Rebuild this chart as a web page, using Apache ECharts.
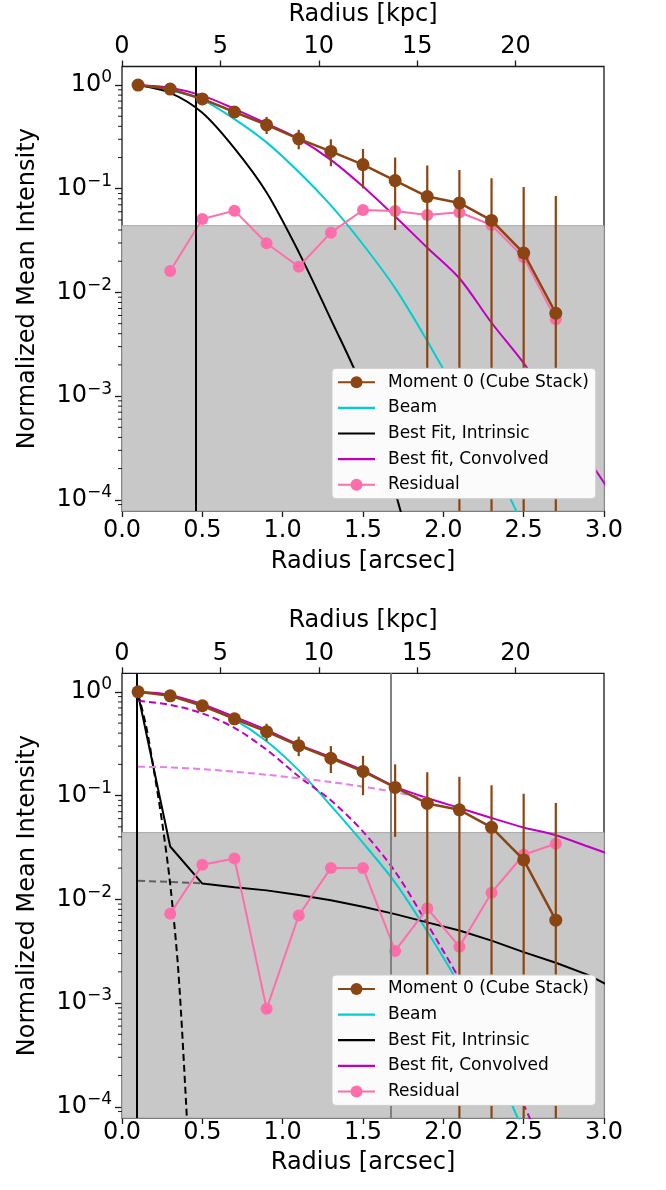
<!DOCTYPE html>
<html>
<head>
<meta charset="utf-8">
<script src="https://cdn.jsdelivr.net/npm/echarts@6/dist/echarts.min.js"></script>
<style>
html, body { margin: 0; padding: 0; background: #fff; }
#main { width: 666px; height: 1190px; }
</style>
</head>
<body>
<div id="main"></div>
<script>
// radial bins (arcsec) of the stacked moment 0 profile
var radius = [0.1, 0.3, 0.5, 0.7, 0.9, 1.1, 1.3, 1.5, 1.7, 1.9, 2.1, 2.3, 2.5, 2.7];
var moment0 = [1.0, 0.915, 0.735, 0.55, 0.413, 0.303, 0.229, 0.171, 0.12, 0.084, 0.073, 0.0495, 0.024, 0.0063];
var errUpper = [null, null, null, 0.60, 0.493, 0.37, 0.30, 0.242, 0.20, 0.168, 0.152, 0.126, 0.104, 0.085];
var errLower = [null, null, null, 0.50, 0.337, 0.24, 0.165, 0.101, 0.040, 3e-4, 1e-5, 1e-5, 1e-5, 1e-5];

// model curves are sampled on this grid
var modelRadius = [0.1, 0.3, 0.5, 0.7, 0.9, 1.1, 1.3, 1.5, 1.7, 1.9, 2.1, 2.3, 2.5, 2.7, 2.9, 3.1];

// top panel
var beamTop = [1.0, 0.89, 0.72, 0.47, 0.28, 0.145, 0.069, 0.029, 0.011, 0.0034, 0.00095, 2.4e-4, 5.5e-5, 1.1e-5];
var intrinsicTop = [1.0, 0.84, 0.54, 0.245, 0.092, 0.0245, 0.0055, 0.00115, 1.2e-4, 8e-6];
var convolvedTop = [1.0, 0.94, 0.79, 0.59, 0.425, 0.303, 0.19, 0.105, 0.054, 0.027, 0.0137, 0.0051, 0.00208, 7.2e-4, 2.5e-4, 8.5e-5];
var residualTop = [null, 0.0161, 0.0511, 0.0615, 0.0298, 0.0177, 0.0377, 0.0624, 0.061, 0.0558, 0.0593, 0.0447, 0.0218, 0.0055];

// bottom panel
var beamBot = [1.0, 0.92, 0.745, 0.54, 0.334, 0.175, 0.08, 0.035, 0.0145, 0.0049, 0.00147, 2.9e-4, 5.8e-5];
var intrinsicBot = [0.95, 0.0323, 0.0142, 0.0131, 0.0122, 0.011, 0.0098, 0.0085, 0.0072, 0.006, 0.005, 0.004, 0.0031, 0.00245, 0.00187, 0.0013];
var convolvedBot = [1.0, 0.935, 0.76, 0.575, 0.43, 0.31, 0.235, 0.175, 0.122, 0.0948, 0.076, 0.0608, 0.0493, 0.0415, 0.0323, 0.025];
var convInnerBot = [0.82, 0.75, 0.62, 0.45, 0.277, 0.153, 0.09, 0.045, 0.0185, 0.0058, 0.0017, 4.4e-4, 1.05e-4, 2e-5];
var convOuterBot = [0.19, 0.187, 0.18, 0.17, 0.159, 0.147, 0.135, 0.122, 0.108, 0.093];
var innerRadius = [0.1, 0.15, 0.2, 0.25, 0.3, 0.35, 0.4, 0.45];
var intrInnerBot = [0.95, 0.47, 0.17, 0.055, 0.014, 0.0021, 1.0e-4, 3e-6];
var intrOuterBot = [0.0151, 0.0147, 0.0143];
var residualBot = [null, 0.00725, 0.0215, 0.0248, 0.00088, 0.00698, 0.0201, 0.0201, 0.00318, 0.0082, 0.0035, 0.0116, 0.0269, 0.0343];

var noiseLevel = 0.044;            // top of grey band
var vLinesTop = [0.463];
var vLinesBot = [0.09];
var vLinesBotGrey = [1.665];
var kpcPerArcsec = 8.165;
var minorTicks = [9e-5, 2e-4, 3e-4, 4e-4, 5e-4, 6e-4, 7e-4, 8e-4, 9e-4,
	0.002, 0.003, 0.004, 0.005, 0.006, 0.007, 0.008, 0.009,
	0.02, 0.03, 0.04, 0.05, 0.06, 0.07, 0.08, 0.09,
	0.2, 0.3, 0.4, 0.5, 0.6, 0.7, 0.8, 0.9];
var legendNames = ['Moment 0 (Cube Stack)', 'Beam', 'Best Fit, Intrinsic', 'Best fit, Convolved', 'Residual'];
var legendMarker = [true, false, false, false, true];

var FONT = 'DejaVu Sans';
var BROWN = '#8B4513', CYAN = '#00CED1', MAGENTA = '#BF00BF', PINK = '#FF6EAA', VIOLET = '#E67EE6';
var Y_MIN = 7.8e-5, Y_MAX = 1.51;
// plain line handle for the legend (empty moves keep the box 37x15)
var LINE_ICON = 'path://M0,0L0,0M0,6.4L37,6.4L37,8.6L0,8.6ZM0,15L0,15';

function zip(xs, ys) {
	var out = [];
	for (var k = 0; k < ys.length; k++) {
		if (ys[k] != null) out.push([xs[k], ys[k]]);
	}
	return out;
}

function lineSeries(name, panel, xs, ys, color, opts) {
	var s = {
		name: name,
		type: 'line',
		xAxisIndex: panel * 2,
		yAxisIndex: panel,
		data: zip(xs, ys),
		symbol: 'none',
		smooth: 0.3,
		z: 3,
		lineStyle: { color: color, width: 2 },
		itemStyle: { color: color }
	};
	for (var k in opts) s[k] = opts[k];
	return s;
}

function panelSeries(p, d) {
	var marks = [];
	d.vBlack.forEach(function (x) {
		marks.push({ xAxis: x, lineStyle: { color: '#000', width: 2, type: 'solid' } });
	});
	d.vGrey.forEach(function (x) {
		marks.push({ xAxis: x, lineStyle: { color: '#808080', width: 2, type: 'solid' } });
	});
	var list = [];
	list.push(lineSeries('Beam', p, modelRadius, d.beam, CYAN, {
		markArea: {
			silent: true,
			itemStyle: { color: '#c8c8c8', borderColor: '#a8a8a8', borderWidth: 1 },
			data: [[{ yAxis: noiseLevel }, { yAxis: Y_MIN }]]
		},
		markLine: {
			silent: true, symbol: 'none', label: { show: false },
			data: marks
		}
	}));
	list.push(lineSeries('Best Fit, Intrinsic', p, modelRadius, d.intrinsic, '#000', { smooth: d.intrSmooth }));
	list.push(lineSeries('Best fit, Convolved', p, modelRadius, d.convolved, MAGENTA, {}));
	if (d.convInner) {
		list.push(lineSeries('conv_inner', p, modelRadius, d.convInner, MAGENTA, { lineStyle: { color: MAGENTA, width: 2, type: [7, 4] } }));
		list.push(lineSeries('conv_outer', p, modelRadius, d.convOuter, VIOLET, { lineStyle: { color: VIOLET, width: 2, type: [7, 4] } }));
		list.push(lineSeries('intr_inner', p, innerRadius, d.intrInner, '#000', { lineStyle: { color: '#000', width: 2, type: [7, 4] } }));
		list.push(lineSeries('intr_outer', p, modelRadius, d.intrOuter, '#606060', { smooth: false, lineStyle: { color: '#606060', width: 2, type: [7, 4] } }));
	}
	list.push(lineSeries('Residual', p, radius, d.residual, PINK, {
		smooth: false, symbol: 'circle', symbolSize: 12, showSymbol: true, z: 4,
		lineStyle: { color: PINK, width: 2 }
	}));
	// error bars
	var bars = [];
	for (var k = 0; k < radius.length; k++) {
		if (errUpper[k] != null) bars.push([radius[k], errLower[k], errUpper[k]]);
	}
	list.push({
		type: 'custom', xAxisIndex: p * 2, yAxisIndex: p, z: 5, silent: true,
		data: bars,
		encode: { x: 0, y: [1, 2] },
		renderItem: function (params, api) {
			var cs = params.coordSys;
			var hi = api.coord([api.value(0), api.value(2)]);
			var lo = api.coord([api.value(0), api.value(1)]);
			return {
				type: 'line',
				shape: { x1: hi[0], y1: hi[1], x2: hi[0], y2: Math.min(lo[1], cs.y + cs.height) },
				style: { stroke: BROWN, lineWidth: 2.2 }
			};
		}
	});
	list.push(lineSeries('Moment 0 (Cube Stack)', p, radius, moment0, BROWN, {
		smooth: false, symbol: 'circle', symbolSize: 13, showSymbol: true, z: 6,
		lineStyle: { color: BROWN, width: 2.5 }
	}));
	// log minor ticks on the left spine
	list.push({
		type: 'custom', xAxisIndex: p * 2, yAxisIndex: p, z: 6, silent: true,
		data: minorTicks.map(function (v) { return [0, v]; }),
		renderItem: function (params, api) {
			var pt = api.coord([0, api.value(1)]);
			return {
				type: 'line',
				shape: { x1: pt[0] - 4, y1: pt[1], x2: pt[0], y2: pt[1] },
				style: { stroke: '#1a1a1a', lineWidth: 1 }
			};
		}
	});
	return list;
}

function xAxes(p, labelMargin, nameGap, topLabelMargin, topNameGap) {
	var tickStyle = { show: true, length: 6, lineStyle: { color: '#1a1a1a', width: 1.3 } };
	return [{
		type: 'value', gridIndex: p, position: 'bottom', min: 0, max: 3, interval: 0.5,
		name: 'Radius [arcsec]', nameLocation: 'middle', nameGap: nameGap,
		nameTextStyle: { fontFamily: FONT, fontSize: 24, color: '#000' },
		axisLine: { show: false }, axisTick: tickStyle, splitLine: { show: false },
		axisLabel: { fontFamily: FONT, fontSize: 24, color: '#000', margin: labelMargin,
			formatter: function (v) { return v.toFixed(1); } }
	}, {
		type: 'value', gridIndex: p, position: 'top', min: 0, max: 3 * kpcPerArcsec, interval: 5,
		name: 'Radius [kpc]', nameLocation: 'middle', nameGap: topNameGap,
		nameTextStyle: { fontFamily: FONT, fontSize: 24, color: '#000' },
		axisLine: { show: false }, axisTick: tickStyle, splitLine: { show: false },
		axisLabel: { fontFamily: FONT, fontSize: 24, color: '#000', margin: topLabelMargin, showMaxLabel: false }
	}];
}

function yAxis(p) {
	return {
		type: 'log', logBase: 10, gridIndex: p, min: Y_MIN, max: Y_MAX,
		name: 'Normalized Mean Intensity', nameLocation: 'middle', nameGap: 82, nameRotate: 90,
		nameTextStyle: { fontFamily: FONT, fontSize: 24, color: '#000' },
		axisLine: { show: false },
		axisTick: { show: true, length: 7, lineStyle: { color: '#1a1a1a', width: 1.3 } },
		minorTick: { show: false }, splitLine: { show: false },
		axisLabel: {
			margin: 10, showMinLabel: false, showMaxLabel: false,
			formatter: function (v) {
				var e = Math.round(Math.log(v) / Math.LN10);
				return '{b|10}{s|' + (e < 0 ? '\u2212' + (-e) : e) + '}';
			},
			rich: {
				b: { fontFamily: FONT, fontSize: 24, color: '#000' },
				s: { fontFamily: FONT, fontSize: 17, color: '#000', padding: [0, 0, 14, 0] }
			}
		}
	};
}

function legend(top) {
	return {
		left: 332, top: top, orient: 'vertical', z: 100, itemGap: 5.6, itemWidth: 37, itemHeight: 15,
		padding: [4, 7, 4, 5],
		backgroundColor: '#fbfbfb', borderColor: '#cccccc', borderWidth: 1, borderRadius: 4,
		textStyle: { fontFamily: FONT, fontSize: 17, color: '#000', lineHeight: 20, padding: [0, 0, 0, 8] },
		data: legendNames.map(function (n, k) {
			return legendMarker[k] ? { name: n } : { name: n, icon: LINE_ICON };
		})
	};
}

var myChart = echarts.init(document.getElementById('main'), null, { renderer: 'canvas' });
var gridStyle = { show: true, borderColor: '#1a1a1a', borderWidth: 1.3, backgroundColor: 'transparent' };

option = {
	animation: false,
	backgroundColor: '#fff',
	grid: [
		Object.assign({ left: 122, width: 482, top: 66.5, height: 444.5 }, gridStyle),
		Object.assign({ left: 122, width: 482, top: 673.3, height: 444.7 }, gridStyle)
	],
	xAxis: xAxes(0, 8, 39, 8, 40).concat(xAxes(1, 3, 33, 8, 41)),
	yAxis: [yAxis(0), yAxis(1)],
	legend: [legend(368.3), legend(975)],
	series: panelSeries(0, {
		beam: beamTop, intrinsic: intrinsicTop, convolved: convolvedTop, residual: residualTop,
		vBlack: vLinesTop, vGrey: [], intrSmooth: 0.3
	}).concat(panelSeries(1, {
		beam: beamBot, intrinsic: intrinsicBot, convolved: convolvedBot, residual: residualBot,
		convInner: convInnerBot, convOuter: convOuterBot, intrInner: intrInnerBot, intrOuter: intrOuterBot,
		vBlack: vLinesBot, vGrey: vLinesBotGrey, intrSmooth: false
	}))
};
myChart.setOption(option);
</script>
</body>
</html>
